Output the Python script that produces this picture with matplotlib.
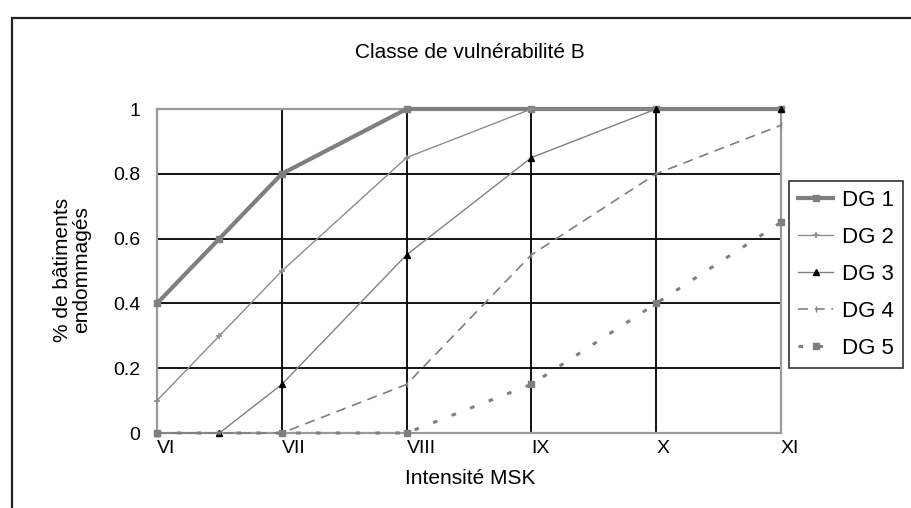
import matplotlib
matplotlib.use("Agg")
import matplotlib.pyplot as plt
from matplotlib.patches import Rectangle

plt.rcParams['font.family'] = ['Liberation Sans', 'DejaVu Sans']

categories = ["VI", "VII", "VIII", "IX", "X", "XI"]
x_dg1 = [0, 0.5, 1, 2, 3, 4, 5]
y_dg1 = [0.4, 0.6, 0.8, 1.0, 1.0, 1.0, 1.0]
x_dg2 = [0, 0.5, 1, 2, 3, 4, 5]
y_dg2 = [0.1, 0.3, 0.5, 0.85, 1.0, 1.0, 1.0]
x_dg3 = [0, 0.5, 1, 2, 3, 4, 5]
y_dg3 = [0.0, 0.0, 0.15, 0.55, 0.85, 1.0, 1.0]
x_dg4 = [0, 1, 2, 3, 4, 5]
y_dg4 = [0.0, 0.0, 0.15, 0.55, 0.8, 0.95]
x_dg5 = [0, 1, 2, 3, 4, 5]
y_dg5 = [0.0, 0.0, 0.0, 0.15, 0.4, 0.65]
yticks = [0, 0.2, 0.4, 0.6, 0.8, 1]
ytick_labels = ["0", "0.2", "0.4", "0.6", "0.8", "1"]

W, H = 912, 508
fig = plt.figure(figsize=(W / 100, H / 100), dpi=100)
fig.patch.set_facecolor('white')

# outer chart border
fig.patches.append(Rectangle((12 / W, -0.05), 1.1, 1 - 18 / H + 0.05,
                             transform=fig.transFigure, fill=False,
                             edgecolor='#222222', linewidth=1.6))

ax = fig.add_axes([157 / W, 1 - 433 / H, (781 - 157) / W, (433 - 109) / H])
ax.set_xlim(0, 5)
ax.set_ylim(0, 1)

ax.set_xticks(range(len(categories)))
ax.set_xticklabels(categories, ha='left', fontsize=14)
ax.set_yticks(yticks)
ax.set_yticklabels(ytick_labels, fontsize=14)
ax.tick_params(length=0, pad=5)
ax.tick_params(axis='y', pad=12)
ax.grid(True, color='black', linewidth=1.3)
ax.set_axisbelow(True)
for s in ax.spines.values():
    s.set_color('#9a9a9a')
    s.set_linewidth(1.6)

gray = '#7f7f7f'
ax.plot(x_dg1, y_dg1, color=gray, linewidth=3, marker='s', markersize=4,
        label='DG 1', zorder=5, clip_on=False)
ax.plot(x_dg2, y_dg2, color='#8c8c8c', linewidth=1, marker='+', markersize=5,
        markeredgewidth=1.2, label='DG 2', zorder=5, clip_on=False)
ax.plot(x_dg3, y_dg3, color='#808080', linewidth=1, marker='^', markersize=5,
        markerfacecolor='black', markeredgecolor='black', label='DG 3',
        zorder=5, clip_on=False)
ax.plot(x_dg4, y_dg4, color=gray, linewidth=1.2, linestyle=(0, (6, 4)),
        marker='|', markersize=4, label='DG 4', zorder=5, clip_on=False)
ax.plot(x_dg5, y_dg5, color=gray, linewidth=2.2, linestyle=(0, (1.5, 5)),
        marker='s', markersize=4, label='DG 5', zorder=5, clip_on=False)

fig.text(470 / W, 1 - 52 / H, "Classe de vulnérabilité B", ha='center',
         va='center', fontsize=15)
fig.text(470 / W, 1 - 478 / H, "Intensité MSK", ha='center', va='center',
         fontsize=15)
fig.text(72 / W, 1 - 270 / H, "% de bâtiments\nendommagés", ha='center',
         va='center', rotation=90, fontsize=15, linespacing=1.05)

leg = fig.legend(loc='upper left', bbox_to_anchor=(789 / W, 1 - 181 / H),
                 fontsize=16, frameon=True, fancybox=False, handlelength=1.6,
                 handletextpad=0.4, borderpad=0.4, labelspacing=0.72,
                 borderaxespad=0)
leg.get_frame().set_edgecolor('black')
leg.get_frame().set_linewidth(1.2)

fig.savefig("out.png", dpi=100)
